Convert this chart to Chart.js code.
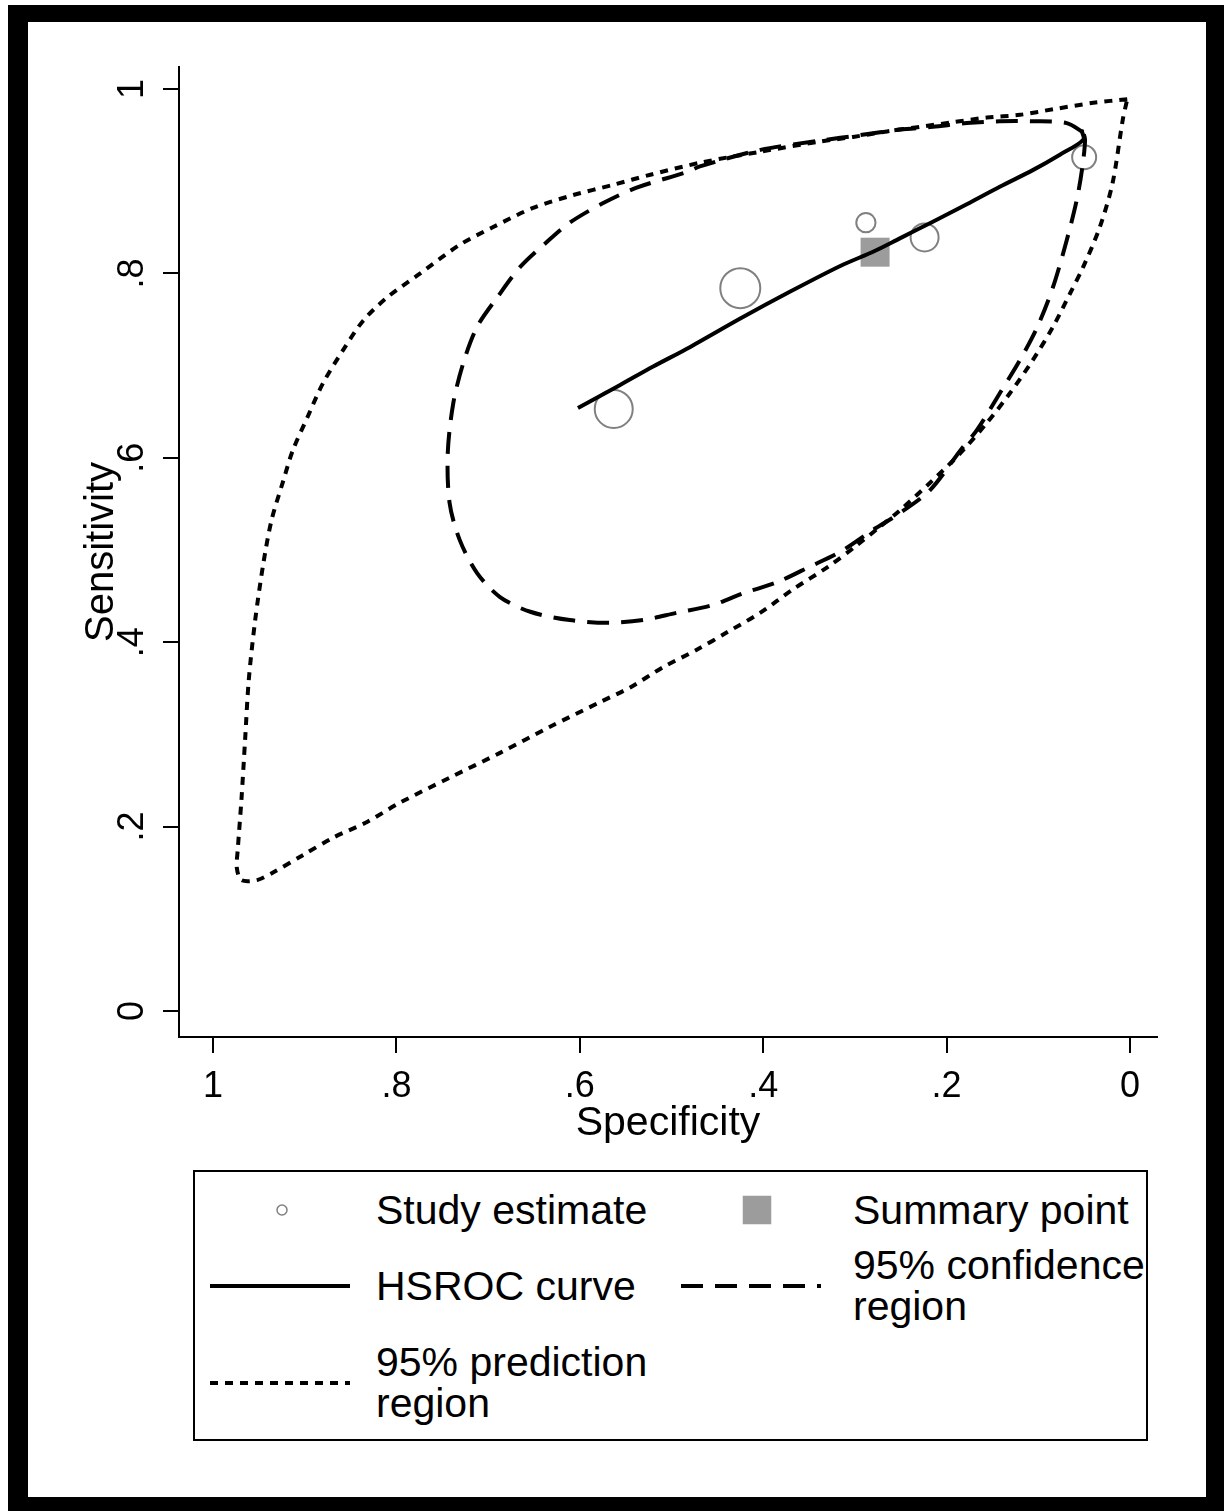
<!DOCTYPE html>
<html>
<head>
<meta charset="utf-8">
<script src="https://cdn.jsdelivr.net/npm/chart.js@4.4.1/dist/chart.umd.min.js"></script>
<style>
  html, body { margin: 0; padding: 0; background: #fff; }
  body { width: 1224px; height: 1511px; position: relative; overflow: hidden; font-family: "Liberation Sans", Arial, sans-serif; }
  #frame { position: absolute; left: 8px; top: 5px; width: 1216px; height: 1506px; background: #000; }
  #paper { position: absolute; left: 28px; top: 22px; width: 1178px; height: 1475px; background: #fff; }
  #chart { position: absolute; left: 0; top: 0; }
  #legend { position: absolute; left: 193px; top: 1170px; width: 951px; height: 267px; border: 2px solid #000; background: #fff; }
  .key { position: absolute; transform: translate(-50%, -50%); display: block; }
  .txt { position: absolute; font-size: 41px; line-height: 41px; color: #000; transform: translateY(-50%); white-space: pre; }
</style>
</head>
<body>
<div id="frame"></div>
<div id="paper"></div>
<canvas id="chart" width="1224" height="1511"></canvas>
<div id="legend"></div>
<script>
// tick values / labels (Stata style, no leading zero)
const axisTicks = [0, 0.2, 0.4, 0.6, 0.8, 1];
const tickLabels = ['0', '.2', '.4', '.6', '.8', '1'];

// individual studies
const studySpec = [0.050, 0.288, 0.224, 0.425, 0.563];
const studySens = [0.926, 0.855, 0.839, 0.784, 0.653];
const studyWeight = [0.60, 0.48, 0.70, 1.00, 0.95];

// summary operating point
const summarySpec = [0.278];
const summarySens = [0.823];

// HSROC curve
const hsrocSpec = [0.602, 0.556, 0.520, 0.480, 0.425, 0.371, 0.316, 0.279, 0.251, 0.215, 0.178, 0.142, 0.106, 0.076, 0.051, 0.053];
const hsrocSens = [0.654, 0.679, 0.699, 0.720, 0.751, 0.780, 0.808, 0.824, 0.838, 0.856, 0.875, 0.894, 0.912, 0.929, 0.945, 0.956];

// 95% confidence region
const confSpec = [0.051, 0.069, 0.106, 0.142, 0.178, 0.215, 0.251, 0.294, 0.338, 0.403, 0.469, 0.483, 0.538, 0.575, 0.611, 0.636, 0.665, 0.690, 0.712, 0.727, 0.738, 0.744, 0.742, 0.731, 0.712, 0.687, 0.654, 0.611, 0.570, 0.531, 0.494, 0.456, 0.422, 0.385, 0.349, 0.316, 0.280, 0.251, 0.218, 0.185, 0.167, 0.142, 0.120, 0.101, 0.084, 0.069, 0.058, 0.052, 0.049, 0.051];
const confSens = [0.953, 0.963, 0.965, 0.965, 0.963, 0.959, 0.956, 0.950, 0.944, 0.934, 0.916, 0.910, 0.893, 0.876, 0.855, 0.834, 0.807, 0.774, 0.742, 0.703, 0.659, 0.605, 0.551, 0.511, 0.475, 0.449, 0.433, 0.424, 0.421, 0.424, 0.432, 0.440, 0.453, 0.465, 0.482, 0.498, 0.522, 0.540, 0.565, 0.608, 0.630, 0.670, 0.706, 0.742, 0.785, 0.836, 0.880, 0.915, 0.945, 0.953];

// 95% prediction region
const predSpec = [0.003, 0.040, 0.084, 0.120, 0.156, 0.193, 0.229, 0.265, 0.302, 0.338, 0.403, 0.469, 0.523, 0.564, 0.607, 0.651, 0.695, 0.731, 0.774, 0.810, 0.836, 0.858, 0.880, 0.897, 0.913, 0.924, 0.936, 0.945, 0.954, 0.961, 0.965, 0.969, 0.973, 0.974, 0.969, 0.952, 0.935, 0.902, 0.869, 0.832, 0.796, 0.742, 0.687, 0.633, 0.578, 0.545, 0.509, 0.472, 0.439, 0.403, 0.368, 0.329, 0.298, 0.273, 0.251, 0.218, 0.185, 0.156, 0.131, 0.106, 0.084, 0.065, 0.051, 0.033, 0.019, 0.008, 0.003];
const predSens = [0.989, 0.985, 0.978, 0.972, 0.969, 0.964, 0.959, 0.954, 0.948, 0.943, 0.932, 0.920, 0.907, 0.896, 0.885, 0.871, 0.850, 0.831, 0.800, 0.774, 0.749, 0.717, 0.681, 0.644, 0.608, 0.573, 0.533, 0.486, 0.424, 0.359, 0.294, 0.229, 0.175, 0.155, 0.142, 0.142, 0.150, 0.169, 0.188, 0.205, 0.226, 0.253, 0.280, 0.308, 0.335, 0.351, 0.373, 0.392, 0.411, 0.432, 0.457, 0.482, 0.505, 0.525, 0.543, 0.573, 0.605, 0.638, 0.670, 0.706, 0.742, 0.779, 0.807, 0.850, 0.898, 0.966, 0.989];

function pts(xs, ys) {
    return xs.map((x, i) => ({ x: x, y: ys[i] }))
}

Chart.defaults.font.family = '"Liberation Sans", Arial, sans-serif';
Chart.defaults.color = '#000';

const datasets = [
    {
        label: 'Study estimate',
        data: pts(studySpec, studySens),
        pointStyle: 'circle',
        pointRadius: studyWeight.map(w => w * 20),
        pointBackgroundColor: 'rgba(0,0,0,0)',
        pointBorderColor: '#808080',
        pointBorderWidth: 2,
        legendRadius: 5,
        order: 4
    },
    {
        label: 'Summary point',
        data: pts(summarySpec, summarySens),
        pointStyle: 'rect',
        pointRadius: 20.5,
        pointBackgroundColor: '#9c9c9c',
        pointBorderWidth: 0,
        order: 3
    },
    {
        label: 'HSROC curve',
        data: pts(hsrocSpec, hsrocSens),
        showLine: true,
        borderColor: '#000',
        borderWidth: 4,
        tension: 0.3,
        pointRadius: 0,
        order: 0
    },
    {
        label: '95% confidence\nregion',
        data: pts(confSpec, confSens),
        showLine: true,
        borderColor: '#000',
        borderWidth: 4,
        borderDash: [22, 12],
        tension: 0.3,
        pointRadius: 0,
        order: 1
    },
    {
        label: '95% prediction\nregion',
        data: pts(predSpec, predSens),
        showLine: true,
        borderColor: '#000',
        borderWidth: 4,
        borderDash: [8, 7],
        tension: 0.3,
        pointRadius: 0,
        order: 2
    }
];

function setTicks(scale) {
    scale.ticks = axisTicks.map(v => ({ value: v }))
}

new Chart(document.querySelector('#chart'), {
    type: 'scatter',
    data: { datasets: datasets },
    options: {
        responsive: false,
        animation: false,
        devicePixelRatio: 1,
        layout: { padding: { left: 78, top: 67, right: 67, bottom: 363 } },
        plugins: { legend: { display: false }, tooltip: { enabled: false } },
        scales: {
            x: {
                type: 'linear',
                position: 'bottom',
                reverse: true,
                min: -0.02944,
                max: 1.03708,
                afterBuildTicks: setTicks,
                afterFit: (s) => { s.height = 111 },
                grid: { drawOnChartArea: false, drawTicks: true, tickLength: 16, color: '#000', lineWidth: 2 },
                border: { display: true, color: '#000', width: 2 },
                ticks: {
                    autoSkip: false, maxRotation: 0, padding: 12,
                    font: { size: 36 }, color: '#000',
                    callback: (v, i) => tickLabels[i]
                },
                title: { display: true, text: 'Specificity', font: { size: 41 }, color: '#000', padding: 0 }
            },
            y: {
                type: 'linear',
                position: 'left',
                min: -0.0282,
                max: 1.02386,
                afterBuildTicks: setTicks,
                afterFit: (s) => { s.width = 101 },
                grid: { drawOnChartArea: false, drawTicks: true, tickLength: 16, color: '#000', lineWidth: 2 },
                border: { display: true, color: '#000', width: 2 },
                ticks: {
                    autoSkip: false, minRotation: 90, maxRotation: 90, crossAlign: 'center', padding: 15,
                    font: { size: 36 }, color: '#000',
                    callback: (v, i) => tickLabels[i]
                },
                title: { display: true, text: 'Sensitivity', font: { size: 40 }, color: '#000', padding: 0 }
            }
        }
    }
});

// Stata-style boxed legend, two columns, built from the datasets
const legendSlots = [
    { keyX: 87, textX: 181, y: 38 },
    { keyX: 562, textX: 658, y: 38 },
    { keyX: 85, textX: 181, y: 114 },
    { keyX: 556, textX: 658, y: 114 },
    { keyX: 85, textX: 181, y: 211 }
];

const legendBox = document.querySelector('#legend');
const svgNS = 'http://www.w3.org/2000/svg';

datasets.forEach((ds, i) => {
    const slot = legendSlots[i];
    const svg = document.createElementNS(svgNS, 'svg');
    svg.setAttribute('class', 'key');
    let shape;
    if (ds.showLine) {
        svg.setAttribute('width', 140);
        svg.setAttribute('height', 10);
        shape = document.createElementNS(svgNS, 'line');
        shape.setAttribute('x1', 0);
        shape.setAttribute('x2', 140);
        shape.setAttribute('y1', 5);
        shape.setAttribute('y2', 5);
        shape.setAttribute('stroke', ds.borderColor);
        shape.setAttribute('stroke-width', ds.borderWidth);
        if (ds.borderDash) shape.setAttribute('stroke-dasharray', ds.borderDash.join(' '));
    } else if (ds.pointStyle === 'rect') {
        const side = Math.round(ds.pointRadius * Math.SQRT2);
        svg.setAttribute('width', side);
        svg.setAttribute('height', side);
        shape = document.createElementNS(svgNS, 'rect');
        shape.setAttribute('width', side);
        shape.setAttribute('height', side);
        shape.setAttribute('fill', ds.pointBackgroundColor);
    } else {
        const r = ds.legendRadius;
        svg.setAttribute('width', 2 * r + 4);
        svg.setAttribute('height', 2 * r + 4);
        shape = document.createElementNS(svgNS, 'circle');
        shape.setAttribute('cx', r + 2);
        shape.setAttribute('cy', r + 2);
        shape.setAttribute('r', r);
        shape.setAttribute('fill', 'none');
        shape.setAttribute('stroke', ds.pointBorderColor);
        shape.setAttribute('stroke-width', 1.5);
    }
    svg.appendChild(shape);
    svg.style.left = slot.keyX + 'px';
    svg.style.top = slot.y + 'px';
    legendBox.appendChild(svg);

    const txt = document.createElement('div');
    txt.className = 'txt';
    txt.textContent = ds.label;
    txt.style.left = slot.textX + 'px';
    txt.style.top = slot.y + 'px';
    legendBox.appendChild(txt);
});
</script>
</body>
</html>
